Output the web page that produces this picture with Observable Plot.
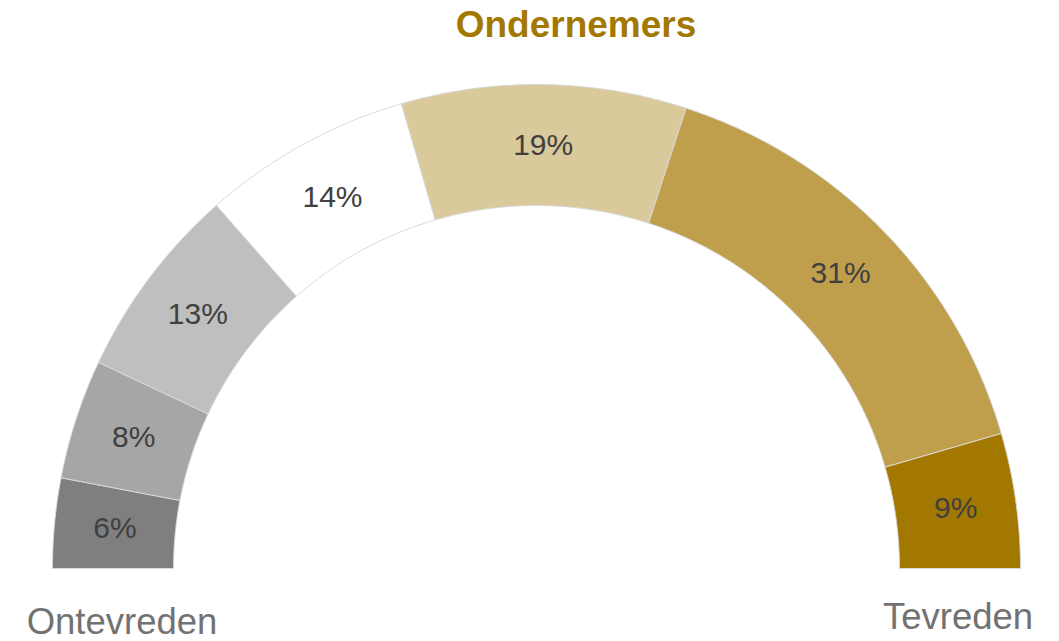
<!DOCTYPE html>
<html><head><meta charset="utf-8">
<script src="https://cdn.jsdelivr.net/npm/d3@7"></script>
<script src="https://cdn.jsdelivr.net/npm/@observablehq/plot@0.6"></script>
<style>
body{margin:0;background:#fff;font-family:"Liberation Sans",Arial,sans-serif;}
#title{height:48px;line-height:50px;padding-left:93px;text-align:center;font-size:37px;font-weight:bold;color:#A37800;}
#chart svg{overflow:visible;}
</style></head><body>
<div id="title"></div>
<div id="chart"></div>
<script>
const title = "Ondernemers";
const categories = ["1","2","3","4","5","6","7"];
const values = [6, 8, 13, 14, 19, 31, 9];
const colors = ["#7F7F7F","#A6A6A6","#BFBFBF","#FFFFFF","#D9C99B","#BF9F4C","#A37800"];
const endLabels = ["Ontevreden","Tevreden"];

document.getElementById("title").textContent = title;

const R_OUT = 1, R_IN = 363/484, R_MID = (R_OUT + R_IN) / 2;
const total = d3.sum(values);
const ang = f => Math.PI * (1 - f);
const pts = [], labels = [];
let cum = 0;
categories.forEach((c, i) => {
  const f0 = cum / total, f1 = (cum + values[i]) / total;
  const N = 80;
  const seg = [];
  for (let k = 0; k <= N; k++) { const a = ang(f0 + (f1 - f0) * k / N); seg.push([R_OUT * Math.cos(a), R_OUT * Math.sin(a)]); }
  for (let k = N; k >= 0; k--) { const a = ang(f0 + (f1 - f0) * k / N); seg.push([R_IN * Math.cos(a), R_IN * Math.sin(a)]); }
  seg.push(seg[0]);
  seg.forEach(([x, y]) => pts.push({cat: c, x, y, color: colors[i]}));
  const am = ang((f0 + f1) / 2);
  labels.push({x: R_MID * Math.cos(am), y: R_MID * Math.sin(am), text: values[i] + "%"});
  cum += values[i];
});
const ends = [
  {x: -R_MID, y: 0, text: endLabels[0]},
  {x: R_MID, y: 0, text: endLabels[1]}
];

const chart = Plot.plot({
  width: 1059, height: 593,
  marginLeft: 52, marginRight: 39, marginTop: 36, marginBottom: 73,
  x: {domain: [-1, 1], axis: null},
  y: {domain: [0, 1], axis: null},
  color: {type: "identity"},
  style: {fontFamily: "Liberation Sans, Arial, sans-serif", background: "#fff"},
  marks: [
    Plot.line(pts, {x: "x", y: "y", z: "cat", fill: "color", stroke: "#D9D9D9", strokeWidth: 1, curve: "linear"}),
    Plot.text(labels, {x: "x", y: "y", text: "text", fontSize: 30, fill: "#404040", lineAnchor: "middle"}),
    Plot.text(ends.slice(0, 1), {x: "x", y: "y", text: "text", fontSize: 36.5, fill: "#727272", lineAnchor: "bottom", dx: 9, dy: 65}),
    Plot.text(ends.slice(1), {x: "x", y: "y", text: "text", fontSize: 36.5, fill: "#727272", lineAnchor: "bottom", dx: -2, dy: 60})
  ]
});
document.getElementById("chart").appendChild(chart);
</script>
</body></html>
